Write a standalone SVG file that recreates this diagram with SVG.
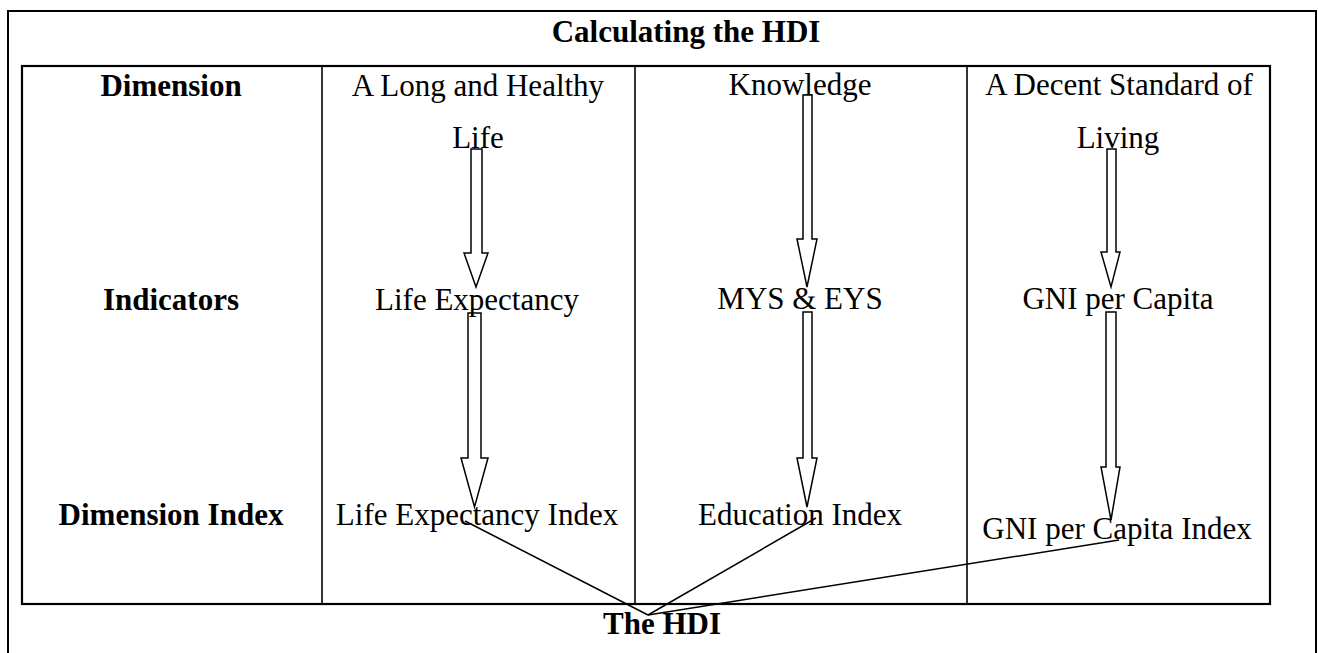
<svg xmlns="http://www.w3.org/2000/svg" width="1318" height="653" viewBox="0 0 1318 653">
<style>
.t{font-family:"Liberation Serif","Times New Roman",serif;font-size:31px;fill:#000;text-anchor:middle}
.b{font-weight:bold}
.arr{fill:none;stroke:#000;stroke-width:1.5;stroke-linejoin:miter}
.ln{stroke:#000;stroke-width:1.5;fill:none}
</style>
<rect width="1318" height="653" fill="#fff"/>
<g id="frame">
<rect x="8" y="11" width="1308" height="660" fill="none" stroke="#000" stroke-width="2"/>
<rect x="22" y="66" width="1248" height="538" fill="none" stroke="#000" stroke-width="2.2"/>
<line x1="322" y1="66" x2="322" y2="604" stroke="#000" stroke-width="1.6"/>
<line x1="635" y1="66" x2="635" y2="604" stroke="#000" stroke-width="1.6"/>
<line x1="967" y1="66" x2="967" y2="604" stroke="#000" stroke-width="1.6"/>
</g>
<g id="title"><text class="t b" x="686" y="42">Calculating the HDI</text></g>
<g id="row-labels">
<text class="t b" x="171" y="96">Dimension</text>
<text class="t b" x="171" y="310">Indicators</text>
<text class="t b" x="171" y="525">Dimension Index</text>
</g>
<g id="health-dimension"><text class="t" x="478" y="96">A Long and Healthy</text><text class="t" x="478" y="148">Life</text></g>
<g id="health-indicator"><text class="t" x="477" y="310">Life Expectancy</text></g>
<g id="health-index"><text class="t" x="477" y="525">Life Expectancy Index</text></g>
<g id="knowledge-dimension"><text class="t" x="800" y="95">Knowledge</text></g>
<g id="knowledge-indicator"><text class="t" x="800" y="309">MYS &amp; EYS</text></g>
<g id="knowledge-index"><text class="t" x="800" y="525">Education Index</text></g>
<g id="living-dimension"><text class="t" x="1119" y="95">A Decent Standard of</text><text class="t" x="1118" y="148">Living</text></g>
<g id="living-indicator"><text class="t" x="1118" y="309">GNI per Capita</text></g>
<g id="living-index"><text class="t" x="1117" y="539">GNI per Capita Index</text></g>
<g id="hdi"><text class="t b" x="662" y="634">The HDI</text></g>
<g id="connectors">
<polygon class="arr" points="471,149 482,149 482,253 488,253 476,287 464,253 471,253"/>
<polygon class="arr" points="468,313 481,313 481,458 488,458 474.5,507 461,458 468,458"/>
<polygon class="arr" points="803,95 812,95 812,239 817,239 807,287 797,239 803,239"/>
<polygon class="arr" points="803,312 812,312 812,458 817,458 807,507 797,458 803,458"/>
<polygon class="arr" points="1107,149 1116,149 1116,252 1120,252 1111,287 1101,252 1107,252"/>
<polygon class="arr" points="1106,312 1116,312 1116,467 1120,467 1111,520 1101,467 1106,467"/>
<line class="ln" x1="465" y1="521" x2="648" y2="615"/>
<line class="ln" x1="816" y1="518" x2="648" y2="615"/>
<line class="ln" x1="1119" y1="540" x2="648" y2="615"/>
</g>
</svg>
